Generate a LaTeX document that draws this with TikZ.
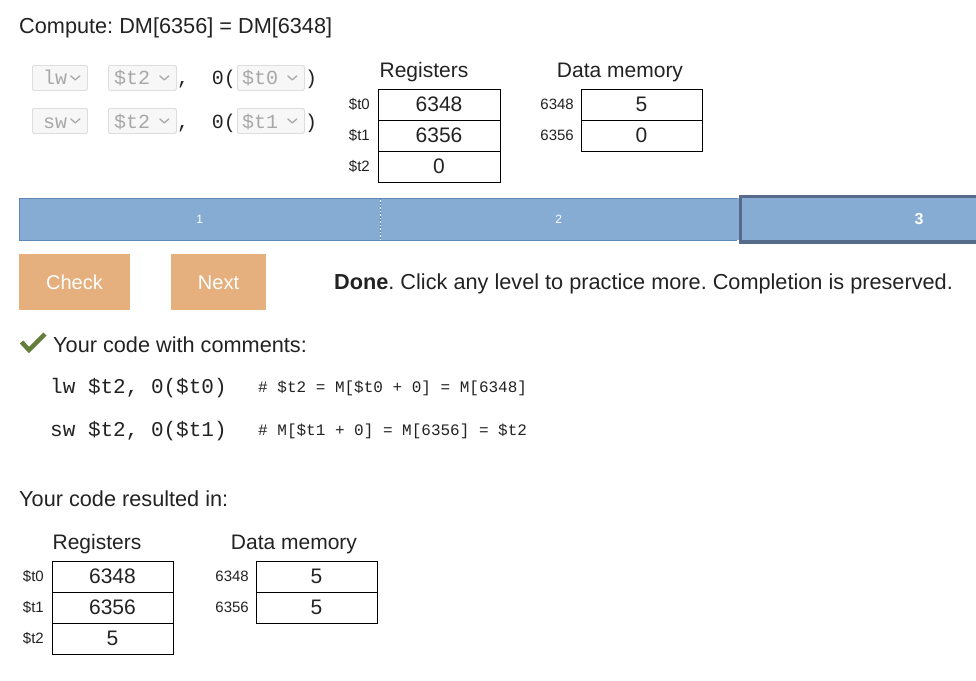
\documentclass[tikz,border=0pt]{standalone}
\usepackage{fontspec}
\setmainfont{Liberation Sans}
\setmonofont{Liberation Mono}
\usetikzlibrary{positioning}
\definecolor{barblue}{HTML}{87ACD3}
\definecolor{barline}{HTML}{5F87B3}
\definecolor{barsel}{HTML}{566A8C}
\definecolor{btnorange}{HTML}{E5B07D}
\definecolor{checkgreen}{HTML}{637D3A}
\definecolor{selgray}{HTML}{A8A8A8}
\definecolor{selline}{HTML}{DDDDDD}
\definecolor{textdark}{HTML}{222222}
\newcommand\fs[1]{\fontsize{#1}{#1}\selectfont}
\frenchspacing

\begin{document}
\begin{tikzpicture}[x=1pt,y=-1pt]
  \tikzstyle{txt} = [anchor=base west, inner sep=0pt, text=textdark, font=\fs{21.7}]
  \tikzstyle{regcell} = [rectangle, draw=black, line width=0.8pt, outer sep=0pt, minimum width=122pt, minimum height=31pt, inner sep=0pt, text=textdark, font=\fs{21}]
  \tikzstyle{reglabel} = [inner sep=0pt, text=textdark, font=\fs{15}]
  \tikzstyle{tabletitle} = [inner sep=0pt, text=textdark, font=\fs{21}]
  \tikzstyle{dropbox} = [rectangle, rounded corners=1.5pt, draw=selline, fill=white!97!black, line width=0.8pt, minimum height=25pt, inner sep=0pt, anchor=north west]
  \tikzstyle{droptext} = [anchor=base west, inner sep=0pt, text=selgray, font=\ttfamily\fs{20}]
  \tikzstyle{codetext} = [anchor=base west, inner sep=0pt, text=textdark, font=\ttfamily\fs{20}]
  \tikzstyle{chevron} = [selgray, line width=1.3pt, line cap=round, line join=round]
  \tikzstyle{level} = [rectangle, fill=barblue, minimum height=42pt, inner sep=0pt, anchor=north west, text=white]
  \tikzstyle{button} = [rectangle, fill=btnorange, minimum height=56pt, inner sep=0pt, text height=15pt, text depth=0pt, text=white, font=\fs{20}]

  \useasboundingbox (0,0) rectangle (976,680);

  \node (task) [txt] at (19,33) {Compute: DM[6356] = DM[6348]};

  % instruction selectors
  \node (op1) [dropbox, minimum width=55pt] at (32,65) {};
  \node (rt1) [dropbox, minimum width=68pt] at (108,65) {};
  \node (rs1) [dropbox, minimum width=67pt] at (237,65) {};
  \node (op2) [dropbox, minimum width=55pt] at (32,108) {};
  \node (rt2) [dropbox, minimum width=68pt] at (108,108) {};
  \node (rs2) [dropbox, minimum width=67pt] at (237,108) {};

  \node (op1txt) [droptext] at (43,84) {lw};
  \node (rt1txt) [droptext] at (114,84) {\$t2};
  \node (rs1txt) [droptext] at (242,84) {\$t0};
  \node (op2txt) [droptext] at (43,128) {sw};
  \node (rt2txt) [droptext] at (114,128) {\$t2};
  \node (rs2txt) [droptext] at (242,128) {\$t1};

  \draw [chevron] ([shift={(-17,-2)}]op1.east) -- ++(4.5,4) -- ++(4.5,-4);
  \draw [chevron] ([shift={(-17,-2)}]rt1.east) -- ++(4.5,4) -- ++(4.5,-4);
  \draw [chevron] ([shift={(-17,-2)}]rs1.east) -- ++(4.5,4) -- ++(4.5,-4);
  \draw [chevron] ([shift={(-17,-2)}]op2.east) -- ++(4.5,4) -- ++(4.5,-4);
  \draw [chevron] ([shift={(-17,-2)}]rt2.east) -- ++(4.5,4) -- ++(4.5,-4);
  \draw [chevron] ([shift={(-17,-2)}]rs2.east) -- ++(4.5,4) -- ++(4.5,-4);

  \node (comma1) [codetext] at (177,84) {,};
  \node (off1) [codetext, anchor=base east] at (236,84) {0(};
  \node (close1) [codetext] at (305,84) {)};
  \node (comma2) [codetext] at (177,128) {,};
  \node (off2) [codetext, anchor=base east] at (236,128) {0(};
  \node (close2) [codetext] at (305,128) {)};

  % registers and memory before
  \node (regtitle) [tabletitle] at (424,72) {Registers};
  \node (topreg0) [regcell, anchor=north] at (439,89) {6348};
  \node (topreg1) [regcell, below=0pt of topreg0] {6356};
  \node (topreg2) [regcell, below=0pt of topreg1] {0};
  \node [reglabel, left=8pt of topreg0] {\$t0};
  \node [reglabel, left=8pt of topreg1] {\$t1};
  \node [reglabel, left=8pt of topreg2] {\$t2};

  \node (memtitle) [tabletitle] at (620,72) {Data memory};
  \node (topmem0) [regcell, minimum width=121pt, anchor=north] at (641.5,89) {5};
  \node (topmem1) [regcell, minimum width=121pt, below=0pt of topmem0] {0};
  \node [reglabel, left=7pt of topmem0] {6348};
  \node [reglabel, left=7pt of topmem1] {6356};

  % level bar
  \node (lvl1) [level, minimum width=361pt, font=\fs{12}] at (19,198) {1};
  \node (lvl2) [level, minimum width=356pt, font=\fs{12}] at (lvl1.north east) {2};
  \node (lvl3) [level, minimum width=364pt, font=\bfseries\fs{16}] at (lvl2.north east) {3};
  \draw [barline, line width=1pt] (lvl3.north west) -- (lvl1.north west) -- (lvl1.south west) -- (lvl3.south west);
  \draw [barline, line width=0.6pt, dash pattern=on 2pt off 1.5pt] (lvl1.north east) -- (lvl1.south east);
  \draw [barsel, line width=3.5pt] ([shift={(3.5,-1.5)}]lvl3.north west) rectangle ([shift={(10,1.5)}]lvl3.south east);

  % buttons
  \node (check) [button, minimum width=111pt] at (74.5,282) {Check};
  \node (next) [button, minimum width=95pt] at (218.5,282) {Next};
  \node (done) [txt] at (334,289) {\bfseries Done\mdseries. Click any level to practice more. Completion is preserved.};

  % code with comments
  \draw [checkgreen, line width=4.5pt, line join=miter] (21.5,342) -- (29,350) -- (45,334);
  \node (comhead) [txt] at (53,352) {Your code with comments:};
  \node (code1) [codetext, font=\ttfamily\fs{21}] at (50,393) {lw \$t2, 0(\$t0)};
  \node (note1) [codetext, font=\ttfamily\fs{16}] at (258,392) {\# \$t2 = M[\$t0 + 0] = M[6348]};
  \node (code2) [codetext, font=\ttfamily\fs{21}] at (50,436) {sw \$t2, 0(\$t1)};
  \node (note2) [codetext, font=\ttfamily\fs{16}] at (258,435) {\# M[\$t1 + 0] = M[6356] = \$t2};

  % registers and memory after
  \node (result) [txt] at (19,506) {Your code resulted in:};
  \node (regtitle2) [tabletitle] at (97,544) {Registers};
  \node (botreg0) [regcell, minimum width=121pt, anchor=north] at (112.5,561) {6348};
  \node (botreg1) [regcell, minimum width=121pt, below=0pt of botreg0] {6356};
  \node (botreg2) [regcell, minimum width=121pt, below=0pt of botreg1] {5};
  \node [reglabel, left=8pt of botreg0] {\$t0};
  \node [reglabel, left=8pt of botreg1] {\$t1};
  \node [reglabel, left=8pt of botreg2] {\$t2};

  \node (memtitle2) [tabletitle] at (294,544) {Data memory};
  \node (botmem0) [regcell, minimum width=121pt, anchor=north] at (316.5,561) {5};
  \node (botmem1) [regcell, minimum width=121pt, below=0pt of botmem0] {5};
  \node [reglabel, left=7pt of botmem0] {6348};
  \node [reglabel, left=7pt of botmem1] {6356};
\end{tikzpicture}
\end{document}
